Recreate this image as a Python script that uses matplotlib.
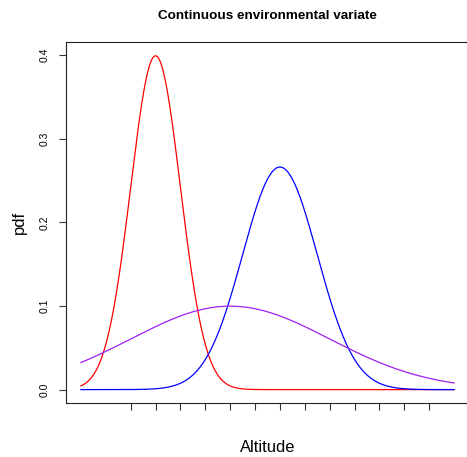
import numpy as np
import matplotlib
matplotlib.use("Agg")
import matplotlib.pyplot as plt

# --- Data ---
# three normal densities along the environmental gradient
curve_names = ["species_a", "species_b", "species_c"]
curve_means = [3.0, 8.0, 6.0]
curve_sds = [1.0, 1.5, 4.0]
curve_colors = ["#FF0000", "#0000FF", "#A020F0"]

x_min, x_max = 0.0, 15.0
x_ticks = list(range(2, 15))
y_ticks = [0.0, 0.1, 0.2, 0.3, 0.4]
y_tick_labels = ["0.0", "0.1", "0.2", "0.3", "0.4"]

plt.rcParams["font.family"] = ["Liberation Sans", "DejaVu Sans"]


def normal_pdf(x, mu, sd):
    """Gaussian density, same as R's dnorm."""
    return np.exp(-0.5 * ((x - mu) / sd) ** 2) / (sd * np.sqrt(2 * np.pi))


fig = plt.figure(figsize=(4.67, 4.57), dpi=100)
ax = fig.add_axes([66 / 467, 54 / 457, 403 / 467, 361.5 / 457])

xs = np.linspace(x_min, x_max, 401)
for name, mu, sd, col in zip(curve_names, curve_means, curve_sds, curve_colors):
    ax.plot(xs, normal_pdf(xs, mu, sd), color=col, lw=0.9, label=name)

# R-style 4% padding on both axes
pad_x = 0.04 * (x_max - x_min)
ax.set_xlim(x_min - pad_x, x_max + pad_x)
ax.set_ylim(-0.016, 0.416)

ax.set_xticks(x_ticks)
ax.set_xticklabels([])
ax.set_yticks(y_ticks)
ax.set_yticklabels(y_tick_labels, rotation=90, va="center", fontsize=7.5)
ax.tick_params(axis="both", direction="out", length=4.8, width=0.8, color="#333333")
ax.tick_params(axis="y", pad=7)

for sp in ax.spines.values():
    sp.set_linewidth(0.8)
    sp.set_color("#222222")

ax.set_xlabel("Altitude", fontsize=11.9, labelpad=18)
ax.set_ylabel("pdf", fontsize=11.9, labelpad=9)
ax.set_title("Continuous environmental variate", fontsize=9.7, fontweight="bold", pad=16)

fig.savefig("out.png", dpi=100)
